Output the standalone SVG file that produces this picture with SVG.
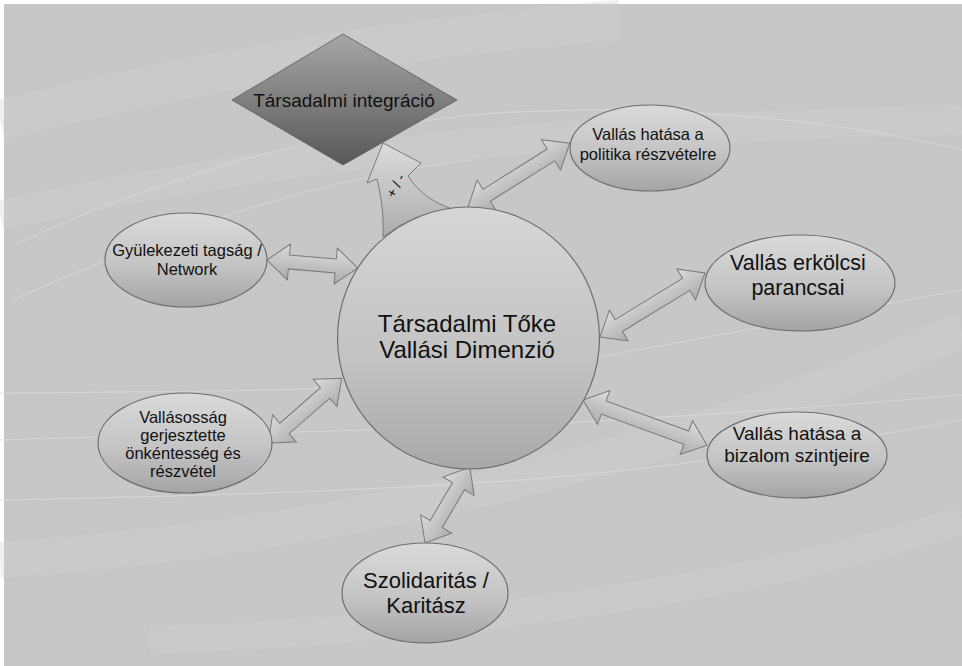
<svg xmlns="http://www.w3.org/2000/svg" width="962" height="666" viewBox="0 0 962 666">
<defs>
<style>
text{font-family:"Liberation Sans",Arial,sans-serif;fill:#111;text-anchor:middle}
.node{fill:url(#gNode);stroke:#6e6e6e;stroke-width:1.2}
.arr{fill:url(#gArr);stroke:#7a7a7a;stroke-width:1}
.bgl{fill:none;stroke:#dadada;stroke-width:1.2;opacity:.8}
.band{fill:none;stroke:#d0d0d0;opacity:.35}
</style>
<linearGradient id="gNode" x1="0" y1="0" x2="0" y2="1">
<stop offset="0" stop-color="#dadada"/>
<stop offset="0.55" stop-color="#c4c4c4"/>
<stop offset="1" stop-color="#a4a4a4"/>
</linearGradient>
<linearGradient id="gCircle" x1="0" y1="0" x2="0" y2="1">
<stop offset="0" stop-color="#d6d6d6"/>
<stop offset="0.6" stop-color="#c2c2c2"/>
<stop offset="1" stop-color="#a8a8a8"/>
</linearGradient>
<linearGradient id="gDia" x1="0" y1="0" x2="0" y2="1">
<stop offset="0" stop-color="#a6a6a6"/>
<stop offset="1" stop-color="#585858"/>
</linearGradient>
<linearGradient id="gArr" x1="0" y1="0" x2="0" y2="1">
<stop offset="0" stop-color="#dcdcdc"/>
<stop offset="1" stop-color="#acacac"/>
</linearGradient>
<linearGradient id="gCurve" x1="0" y1="0" x2="1" y2="0.3">
<stop offset="0" stop-color="#f4f4f4"/>
<stop offset="1" stop-color="#c0c0c0"/>
</linearGradient>
</defs>

<g id="background">
<rect x="0" y="0" width="962" height="666" fill="#ffffff"/>
<rect x="4" y="4" width="958" height="662" fill="#c7c7c7"/>
<path class="band" stroke-width="40" d="M 0 120 C 200 70, 380 40, 620 20"/>
<path class="band" stroke-width="30" d="M 0 215 C 250 160, 500 130, 962 120"/>
<path class="band" stroke-width="36" d="M 0 560 C 300 540, 650 470, 962 330"/>
<path class="band" stroke-width="28" d="M 150 640 C 450 630, 750 590, 962 520"/>
<path class="bgl" d="M 15 245 C 140 185, 300 135, 470 115 C 650 100, 840 120, 962 150"/>
<path class="bgl" d="M 12 300 C 150 240, 300 180, 470 160"/>
<path class="bgl" d="M 0 393 C 250 390, 420 395, 600 357 C 750 330, 880 305, 962 290"/>
<path class="bgl" d="M 0 440 C 250 432, 450 430, 600 421 C 750 412, 880 402, 962 395"/>
<path class="bgl" d="M 0 500 C 250 495, 450 488, 600 473 C 750 458, 880 435, 962 420"/>
</g>

<g id="connectors">
<path class="arr" d="M 383 237 C 384 215, 381 196, 377 179 L 367 183 L 383 143 L 421 163 L 408 176 C 420 194, 435 203, 452 209 A 131 131 0 0 0 383 237 Z" fill="url(#gCurve)"/>
<text x="0" y="0" font-size="14" transform="translate(400,188) rotate(-62)">+ / -</text>
<polygon class="arr" transform="translate(468,207) rotate(-32.1)" points="0,0 22,-18 22,-7 98,-7 98,-18 120,0 98,18 98,7 22,7 22,18"/>
<polygon class="arr" transform="translate(267,260) rotate(5)" points="0,0 22,-18 22,-7 69,-7 69,-18 91,0 69,18 69,7 22,7 22,18"/>
<polygon class="arr" transform="translate(268,443) rotate(-41.3)" points="0,0 22,-18 22,-7 76,-7 76,-18 98,0 76,18 76,7 22,7 22,18"/>
<polygon class="arr" transform="translate(600,337) rotate(-31.4)" points="0,0 22,-18 22,-7 101,-7 101,-18 123,0 101,18 101,7 22,7 22,18"/>
<polygon class="arr" transform="translate(583,400) rotate(20)" points="0,0 22,-18 22,-7 110,-7 110,-18 132,0 110,18 110,7 22,7 22,18"/>
<polygon class="arr" transform="translate(425,543) rotate(-59.4)" points="0,0 22,-18 22,-7 66,-7 66,-18 88,0 66,18 66,7 22,7 22,18"/>
</g>

<g id="node-integracio">
<polygon points="343,34 457,100 343,165 232,100" fill="url(#gDia)" stroke="#5a5a5a" stroke-width="0.8"/>
<text x="344" y="107" font-size="19">Társadalmi integráció</text>
</g>

<g id="node-center">
<circle cx="468.5" cy="338" r="131" fill="url(#gCircle)" stroke="#6e6e6e" stroke-width="1.2"/>
<text x="467" y="332" font-size="24">Társadalmi Tőke</text>
<text x="467" y="358" font-size="24">Vallási Dimenzió</text>
</g>

<g id="node-politika">
<ellipse class="node" cx="650" cy="148" rx="80" ry="43"/>
<text x="648" y="140" font-size="16.5">Vallás hatása a</text>
<text x="648" y="160" font-size="16.5">politika részvételre</text>
</g>

<g id="node-erkolcsi">
<ellipse class="node" cx="800" cy="283" rx="95" ry="48"/>
<text x="798" y="270" font-size="21.5">Vallás erkölcsi</text>
<text x="798" y="295" font-size="21.5">parancsai</text>
</g>

<g id="node-bizalom">
<ellipse class="node" cx="797" cy="455" rx="90" ry="43"/>
<text x="797" y="440" font-size="19">Vallás hatása a</text>
<text x="797" y="462" font-size="19">bizalom szintjeire</text>
</g>

<g id="node-szolidaritas">
<ellipse class="node" cx="425" cy="593" rx="83" ry="50"/>
<text x="426" y="588" font-size="22">Szolidaritás /</text>
<text x="426" y="613" font-size="22">Karitász</text>
</g>

<g id="node-gyulekezeti">
<ellipse class="node" cx="186" cy="260" rx="81" ry="47"/>
<text x="187" y="256" font-size="16.5">Gyülekezeti tagság /</text>
<text x="187" y="275" font-size="16.5">Network</text>
</g>

<g id="node-vallasossag">
<ellipse class="node" cx="185" cy="443" rx="87" ry="50"/>
<text x="183" y="423" font-size="16.5">Vallásosság</text>
<text x="183" y="441" font-size="16.5">gerjesztette</text>
<text x="183" y="459" font-size="16.5">önkéntesség és</text>
<text x="183" y="477" font-size="16.5">részvétel</text>
</g>
</svg>
